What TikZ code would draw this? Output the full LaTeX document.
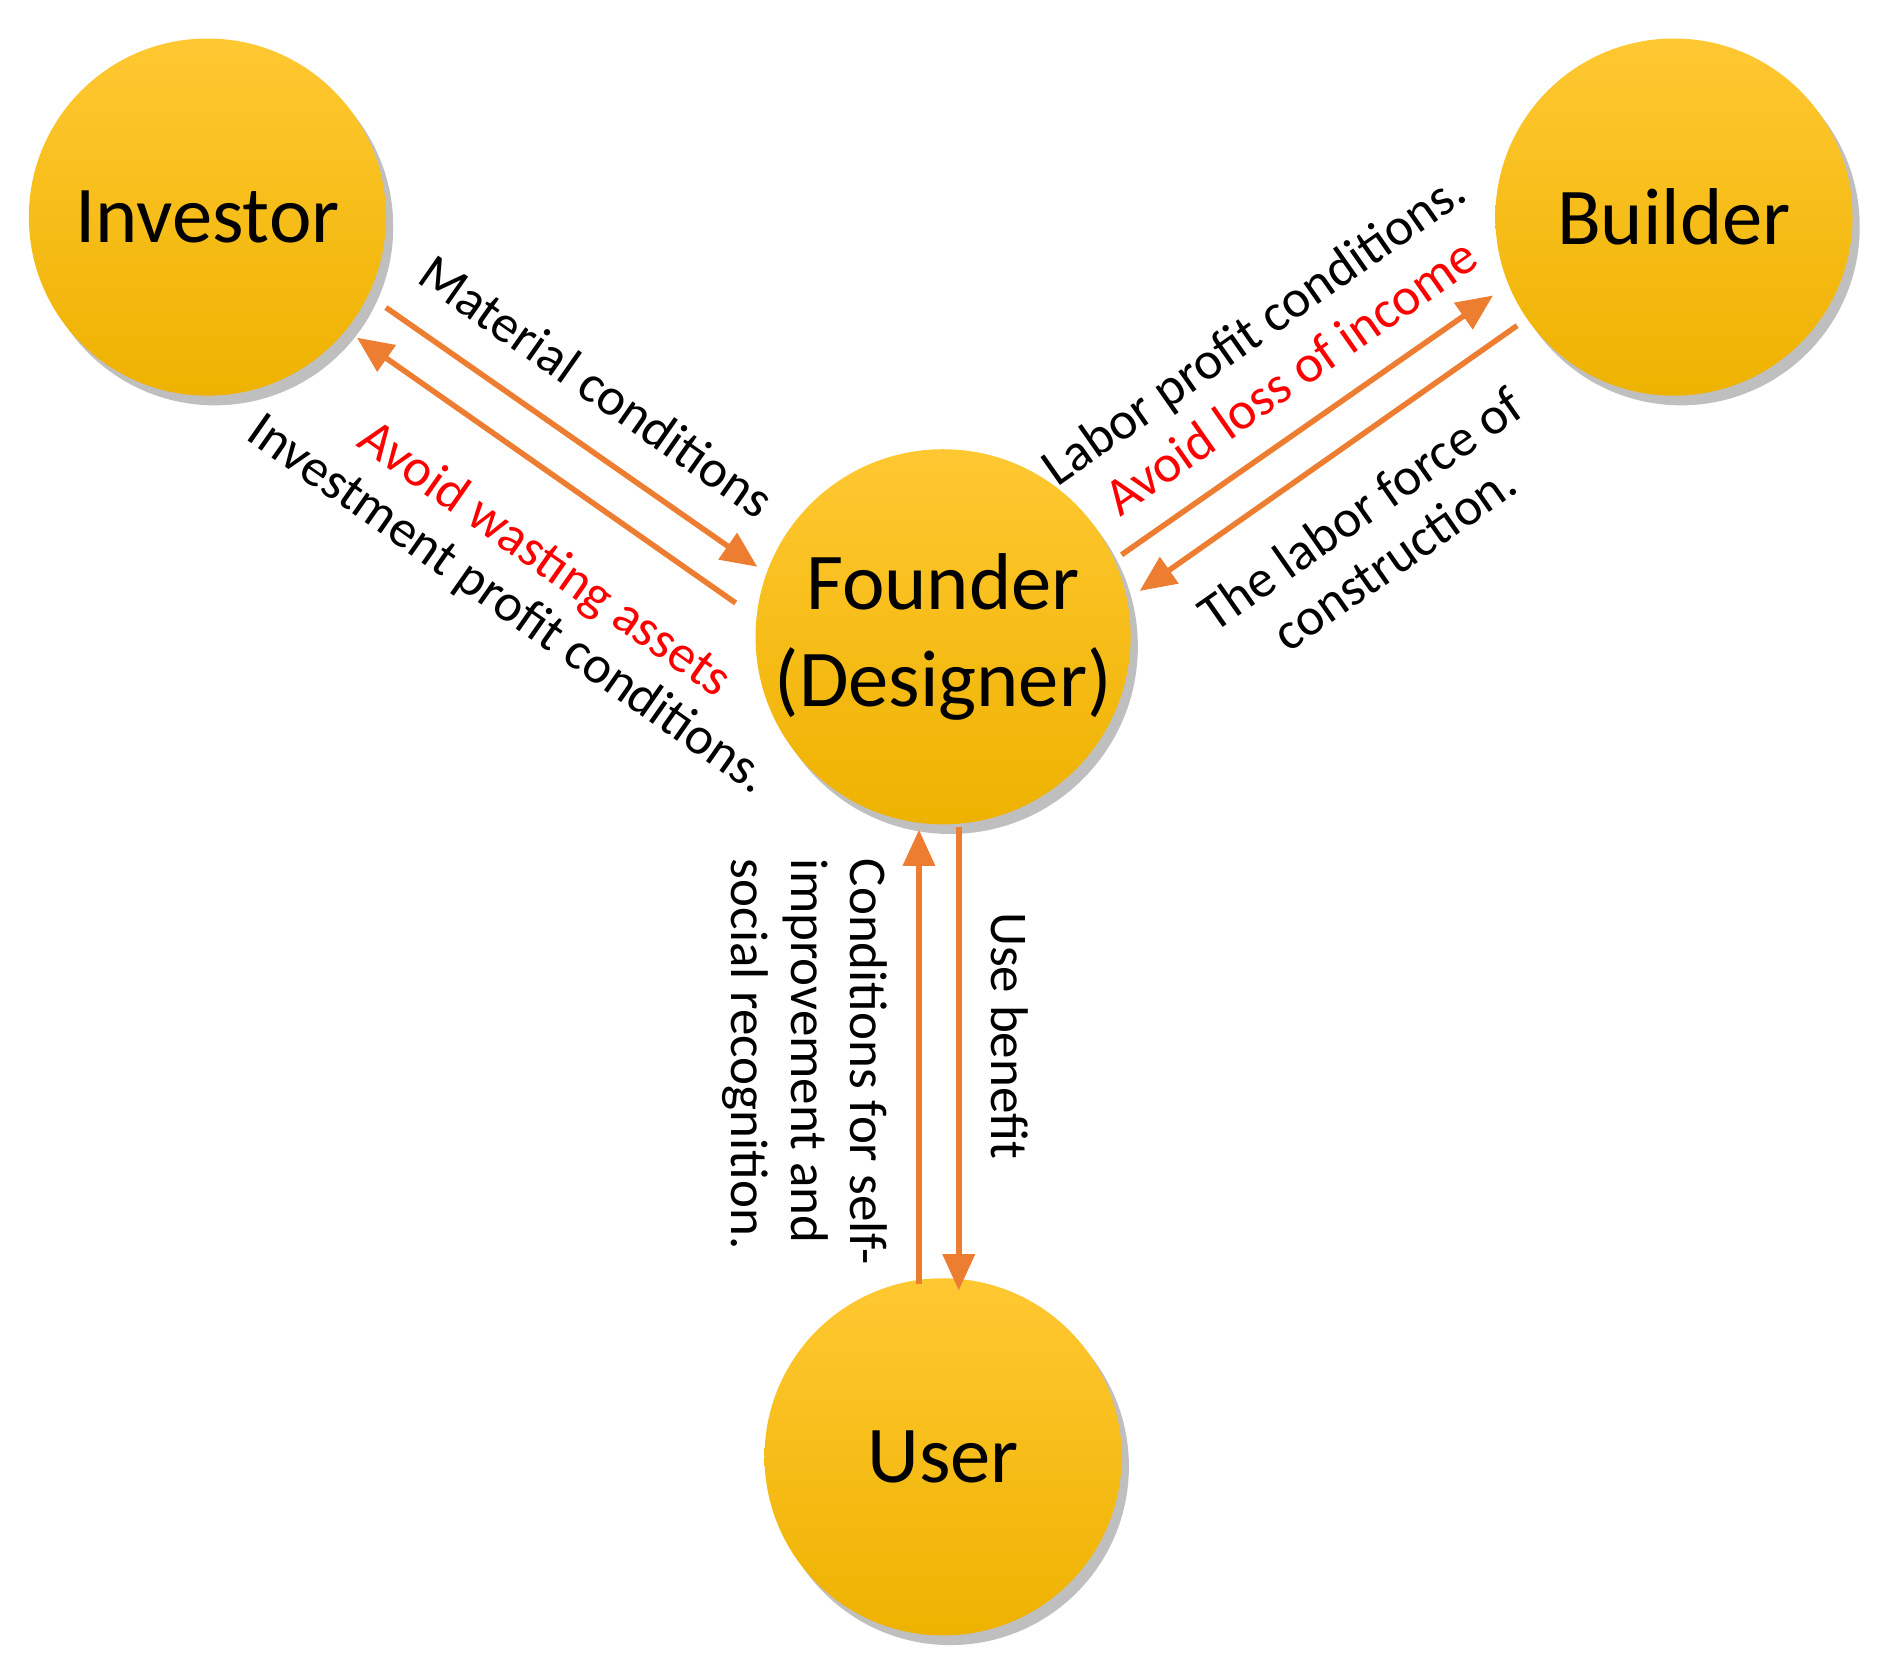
\documentclass[tikz,border=0pt]{standalone}
\usepackage{fontspec}
\setmainfont{Carlito}
\usetikzlibrary{shadows,arrows.meta}
\definecolor{arr}{RGB}{237,125,49}
\definecolor{gtop}{RGB}{255,200,50}
\definecolor{gbot}{RGB}{238,178,0}
\begin{document}
\begin{tikzpicture}[x=0.01cm,y=-0.01cm,
  actor/.style={circle,minimum size=2.96cm,inner sep=0pt,top color=gtop,bottom color=gbot,
   drop shadow={shadow xshift=0.06cm,shadow yshift=-0.08cm,fill=black!50,opacity=0.5},font=\fontsize{19}{23}\selectfont,align=center},
  link/.style={draw=arr,line width=1.3pt,-{Triangle[length=0.3cm,width=0.26cm]}},
  lab/.style={font=\fontsize{12.5}{14}\selectfont,inner sep=1pt},
  red lab/.style={lab,text=red}]
\useasboundingbox (0,0) rectangle (1568,1381);
\node[actor] (inv) at (172,180) {Investor};
\node[actor] (bld) at (1388,180) {Builder};
\node[actor] (fnd) at (782,528) {Founder\\(Designer)};
\node[actor] (usr) at (782,1208) {User};
% investor links
\coordinate (i1) at (320,255); \coordinate (f1) at (628,470);
\coordinate (f2) at (610,500); \coordinate (i2) at (296,280);
\draw[link] (i1) -- (f1);
\draw[link] (f2) -- (i2);
\node[lab,rotate=-35] (tmat) at (495,320) {Material conditions};
\node[red lab,rotate=-35] (tav1) at (451,465) {Avoid wasting assets};
\node[lab,rotate=-35] (tinv) at (421,502) {Investment profit conditions.};
% builder links
\coordinate (f3) at (930,460); \coordinate (b1) at (1238,245);
\coordinate (b2) at (1258,270); \coordinate (f4) at (945,490);
\draw[link] (f3) -- (b1);
\draw[link] (b2) -- (f4);
\node[lab,rotate=35] (tlab) at (1041,275) {Labor profit conditions.};
\node[red lab,rotate=35] (tav2) at (1070,312) {Avoid loss of income};
\node[lab,rotate=35,align=center] (tcon) at (1142,442) {The labor force of\\construction.};
% user links
\coordinate (u1) at (762,1065); \coordinate (f5) at (762,688);
\coordinate (f6) at (795,686); \coordinate (u2) at (795,1070);
\draw[link] (u1) -- (f5);
\draw[link] (f6) -- (u2);
\node[lab,rotate=-90,anchor=south west] (tuse) at (818,752) {Use benefit};
\node[lab,rotate=-90,anchor=north west,align=left] (tcond) at (740,708) {Conditions for self-\\improvement and\\social recognition.};
\end{tikzpicture}
\end{document}
